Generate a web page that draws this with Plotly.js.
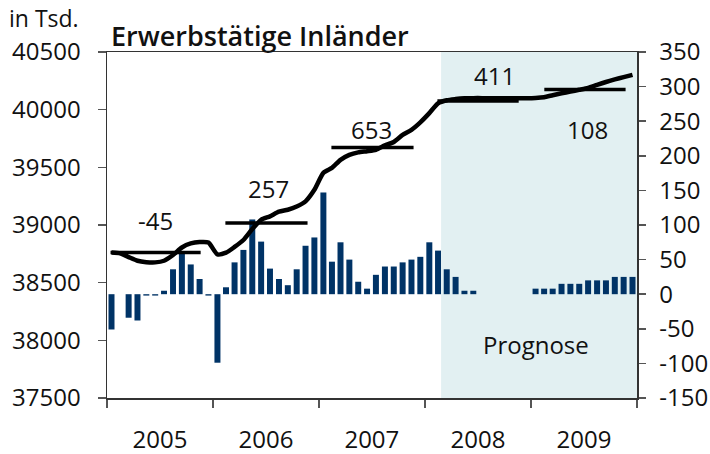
<!DOCTYPE html>
<html><head><meta charset="utf-8">
<script src="https://cdn.plot.ly/plotly-3.0.1.min.js"></script>
<style>html,body{margin:0;padding:0;background:#fff}#chart{width:710px;height:454px}</style>
</head><body><div id="chart"></div>
<script>
// ---- data ----
const years = [2005, 2006, 2007, 2008, 2009];

// monthly change vs previous month, thousands (right axis)
const change2005 = [-51, 0, -34, -38, -2, -2, 5, 36, 60, 43, 22, -2];
const change2006 = [-99, 10, 46, 64, 108, 76, 37, 22, 13, 36, 70, 82];
const change2007 = [147, 47, 75, 50, 18, 8, 28, 40, 40, 46, 50, 54];
const change2008 = [75, 63, 36, 25, 5, 5, 0, 0, 0, 0, 0, 0];
const change2009 = [8, 8, 8, 15, 15, 15, 20, 20, 20, 25, 25, 25];

// employed residents, thousands (left axis)
const level2005 = [38762, 38755, 38722, 38690, 38678, 38676, 38690, 38740, 38805, 38840, 38852, 38848];
const level2006 = [38745, 38760, 38810, 38870, 38965, 39045, 39075, 39115, 39132, 39160, 39205, 39305];
const level2007 = [39452, 39495, 39565, 39608, 39630, 39640, 39652, 39690, 39720, 39781, 39825, 39890];
const level2008 = [39970, 40055, 40082, 40092, 40098, 40100, 40100, 40100, 40100, 40100, 40100, 40100];
const level2009 = [40102, 40108, 40125, 40142, 40157, 40172, 40188, 40215, 40240, 40262, 40282, 40302];

// annual averages (left axis) and their annual change labels
const annualAverage = [38762, 39017, 39671, 40075, 40175];
const annualChange = ['-45', '257', '653', '411', '108'];

// right axis tick values and labels (plain hyphen as in the reference)
const rightTickVals = [-150, -100, -50, 0, 50, 100, 150, 200, 250, 300, 350];
const rightTickText = ['-150', '-100', '-50', '0', '50', '100', '150', '200', '250', '300', '350'];

const forecastLabel = 'Prognose';
const forecastStart = '2008-02-26';
const unitLabel = 'in Tsd.';
const titleText = 'Erwerbstätige Inländer';

// ---- build ----
const monthlyChange = [].concat(change2005, change2006, change2007, change2008, change2009);
const employed = [].concat(level2005, level2006, level2007, level2008, level2009);
const months = [];
years.forEach(y => { for (let m = 1; m <= 12; m++) months.push(y + '-' + String(m).padStart(2, '0') + '-01'); });

const MONTH_MS = 365.25 / 12 * 86400000;
const T0 = Date.UTC(2005, 0, 1);
const mx = m => T0 + m * MONTH_MS;   // month units -> axis ms

const FONT = 'Open Sans, Noto Sans, DejaVu Sans, sans-serif';
const FS = 24;

const traces = [];
traces.push({
  type: 'bar', x: months, y: monthlyChange, xperiod: 'M1', xperiodalignment: 'middle',
  marker: { color: '#003366' }, yaxis: 'y', xaxis: 'x', hoverinfo: 'skip'
});
// annual average segments
const segStart = [0.4, 1.4, 1.4, 1.4, 1.5];
const segEnd = [10.6, 10.7, 10.7, 10.6, 10.7];
years.forEach((y, i) => {
  traces.push({
    type: 'scatter', mode: 'lines', xaxis: 'x', yaxis: 'y2',
    x: [mx(i * 12 + segStart[i]), mx(i * 12 + segEnd[i])],
    y: [annualAverage[i], annualAverage[i]],
    line: { color: '#000', width: 3.5 }, hoverinfo: 'skip'
  });
});
traces.push({
  type: 'scatter', mode: 'lines', x: months, y: employed, xperiod: 'M1', xperiodalignment: 'middle',
  line: { color: '#000', width: 4.5, shape: 'spline', smoothing: 0.6 }, yaxis: 'y2', xaxis: 'x', hoverinfo: 'skip'
});

const labelPos = [[5.47, 39035], [18.26, 39320], [29.9, 39825], [43.85, 40300], [54.4, 39825]];
const annotations = annualChange.map((t, i) => ({
  text: t, x: mx(labelPos[i][0]), y: labelPos[i][1], xref: 'x', yref: 'y2',
  showarrow: false, font: { family: FONT, size: FS, color: '#111' }
}));
annotations.push({
  text: forecastLabel, x: mx(48.6), y: 37965, xref: 'x', yref: 'y2', showarrow: false,
  font: { family: FONT, size: FS, color: '#111' }
});
annotations.push({
  text: unitLabel, xref: 'paper', yref: 'paper', x: (7 - 107) / 530, y: (398 - 18) / 346,
  xanchor: 'left', yanchor: 'middle', showarrow: false, font: { family: FONT, size: 23, color: '#111' }
});
annotations.push({
  text: titleText, xref: 'paper', yref: 'paper', x: (109 - 107) / 530, y: (398 - 35) / 346,
  xanchor: 'left', yanchor: 'middle', showarrow: false,
  font: { family: FONT, size: 27, weight: 600, color: '#111' }
});

const layout = {
  width: 710, height: 454,
  margin: { l: 107, r: 73, t: 52, b: 56, pad: 0 },
  paper_bgcolor: '#fff', plot_bgcolor: '#fff',
  showlegend: false, bargap: 0.3,
  font: { family: FONT, size: FS, color: '#111' },
  xaxis: {
    type: 'date', range: ['2005-01-01', '2010-01-01'],
    tick0: '2005-01-01', dtick: 'M12', ticklabelmode: 'period', tickformat: '%Y',
    ticks: 'outside', ticklen: 8, tickcolor: '#555', tickwidth: 1.5,
    showline: true, linecolor: '#333', linewidth: 1.5, mirror: true,
    showgrid: false, zeroline: false, ticklabelstandoff: 12,
    tickfont: { family: FONT, size: FS, color: '#111' }
  },
  yaxis: {
    side: 'right', range: [-150, 350], tickmode: 'array',
    tickvals: rightTickVals, ticktext: rightTickText,
    ticks: 'outside', ticklen: 7, tickcolor: '#555', tickwidth: 1.5,
    showline: true, linecolor: '#333', linewidth: 1.5,
    showgrid: false, zeroline: false, ticklabelstandoff: 9,
    tickfont: { family: FONT, size: FS, color: '#111' }
  },
  yaxis2: {
    side: 'left', overlaying: 'y', range: [37500, 40500], dtick: 500, tick0: 37500,
    ticks: 'outside', ticklen: 8, tickcolor: '#555', tickwidth: 1.5,
    showline: true, linecolor: '#333', linewidth: 1.5,
    showgrid: false, zeroline: false, ticklabelstandoff: 12,
    tickformat: 'd',
    tickfont: { family: FONT, size: FS, color: '#111' }
  },
  shapes: [{
    type: 'rect', xref: 'x', yref: 'paper', x0: forecastStart, x1: '2010-01-01', y0: 0, y1: 1,
    fillcolor: '#e2f0f2', line: { width: 0 }, layer: 'below'
  }],
  annotations: annotations
};

Plotly.newPlot('chart', traces, layout, { staticPlot: true, displayModeBar: false });
</script>
</body></html>
